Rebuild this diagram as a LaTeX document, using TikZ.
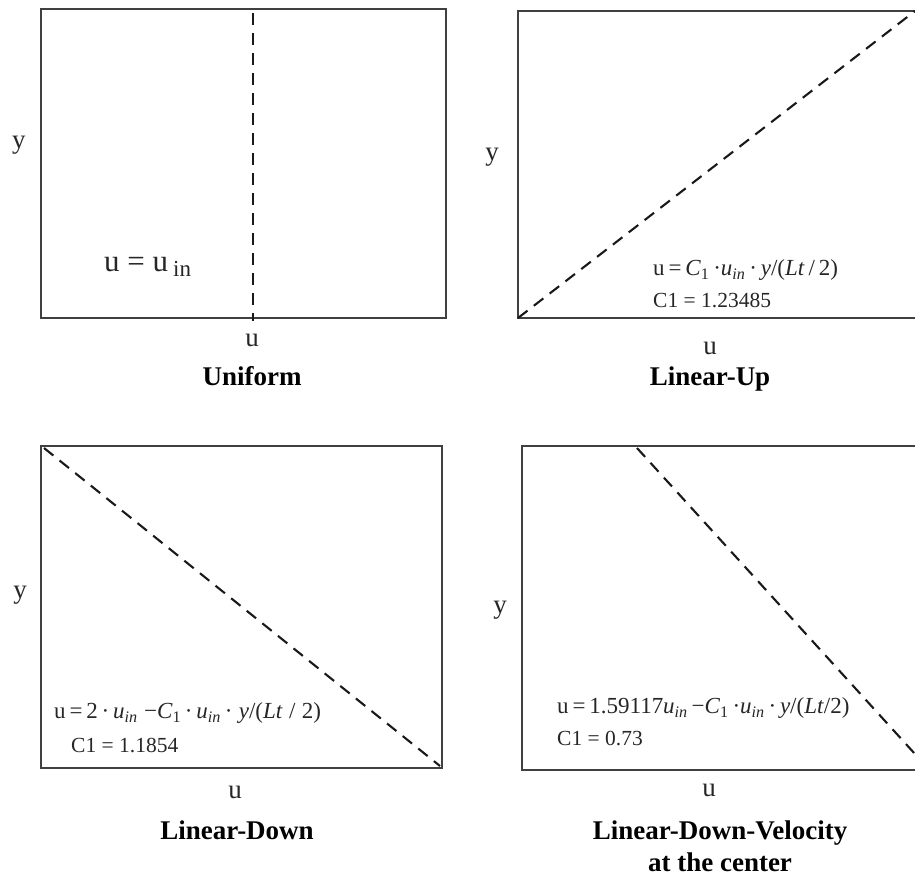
\documentclass[tikz,border=0pt]{standalone}
\usepackage{fontspec}
\setmainfont{Liberation Serif}
\tikzset{
  frame/.style={draw=black!75, line width=1.9pt},
  profile/.style={draw=black!90, line width=2.1pt, dash pattern=on 12pt off 8pt},
  axlabel/.style={font=\fontsize{27}{28}\selectfont, text=black!85, inner sep=0pt},
  formula/.style={font=\fontsize{23}{24}\selectfont, text=black!85, inner sep=0pt, anchor=west},
  cvalue/.style={font=\fontsize{21.5}{23}\selectfont, text=black!85, inner sep=0pt, anchor=west},
  caption/.style={font=\bfseries\fontsize{27}{30}\selectfont, inner sep=0pt, anchor=base},
}
\begin{document}
\begin{tikzpicture}[x=1pt,y=-1pt]
\useasboundingbox (0,0) rectangle (915,878);
\clip (0,0) rectangle (915,878);
% ---------- Panel 1: Uniform
\coordinate (a1) at (41,9);
\coordinate (b1) at (446,318);
\draw[frame] (a1) rectangle (b1);
\coordinate (p1s) at (253,13);
\coordinate (p1e) at (253,321);
\draw[profile] (p1s) -- (p1e);
\node[axlabel] (y1) at (19,145) {y};
\node[axlabel] (u1) at (252,340) {u};
\node[font=\fontsize{31}{32}\selectfont, text=black!85, inner sep=0pt, anchor=west] (f1) at (104,267) {u = u\hspace{5pt}\raisebox{-0.4ex}{\fontsize{23}{24}\selectfont in}};
\node[caption] (t1) at (252,385) {Uniform};
% ---------- Panel 2: Linear-Up
\coordinate (a2) at (518,11);
\coordinate (b2) at (930,318);
\draw[frame] (a2) rectangle (b2);
\coordinate (p2s) at (518,318);
\coordinate (p2e) at (915,11);
\draw[profile] (p2s) -- (p2e);
\node[axlabel] (y2) at (492,157) {y};
\node[axlabel] (u2) at (710,348) {u};
\node[formula] (f2) at (653,270) {u\,=\,\textit{C}\textsubscript{1}\,·\textit{u}\textsubscript{\textit{in}}\,·\,\textit{y}/(\textit{Lt}\,/\,2)};
\node[cvalue] (c2) at (653,300) {C1 = 1.23485};
\node[caption] (t2) at (710,385) {Linear-Up};
% ---------- Panel 3: Linear-Down
\coordinate (a3) at (41,446);
\coordinate (b3) at (442,768);
\draw[frame] (a3) rectangle (b3);
\coordinate (p3s) at (44,448);
\coordinate (p3e) at (440,766);
\draw[profile] (p3s) -- (p3e);
\node[axlabel] (y3) at (20,595) {y};
\node[axlabel] (u3) at (235,792) {u};
\node[formula] (f3) at (54,713) {u\,=\,2\,·\,\textit{u}\textsubscript{\textit{in}}\;\textminus\textit{C}\textsubscript{1}\,·\,\textit{u}\textsubscript{\textit{in}}\,·\;\textit{y}/(\textit{Lt}\;/\;2)};
\node[cvalue] (c3) at (71,745) {C1 = 1.1854};
\node[caption] (t3) at (237,839) {Linear-Down};
% ---------- Panel 4: Linear-Down-Velocity at the center
\coordinate (a4) at (522,446);
\coordinate (b4) at (930,770);
\draw[frame] (a4) rectangle (b4);
\coordinate (p4s) at (637,448);
\coordinate (p4e) at (915,754);
\draw[profile] (p4s) -- (p4e);
\node[axlabel] (y4) at (500,610) {y};
\node[axlabel] (u4) at (709,790) {u};
\node[formula] (f4) at (557,708) {u\,=\,1.59117\textit{u}\textsubscript{\textit{in}}\,\textminus\textit{C}\textsubscript{1}\,·\textit{u}\textsubscript{\textit{in}}\,·\,\textit{y}/(\textit{Lt}/2)};
\node[cvalue] (c4) at (557,738) {C1 = 0.73};
\node[caption] (t4) at (720,839) {Linear-Down-Velocity};
\node[caption] (t4b) at (720,871) {at the center};
\end{tikzpicture}
\end{document}
